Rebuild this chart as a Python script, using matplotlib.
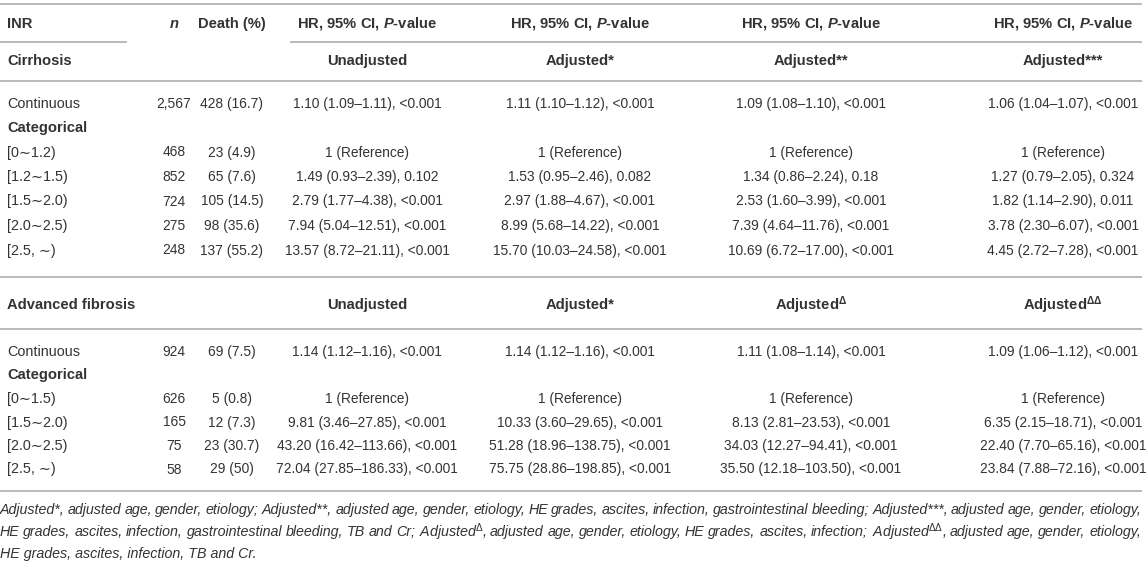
import matplotlib
matplotlib.use("Agg")
import matplotlib.pyplot as plt

plt.rcParams['font.family'] = ['Liberation Sans', 'DejaVu Sans']
plt.rcParams['mathtext.fontset'] = 'custom'
plt.rcParams['mathtext.rm'] = 'Liberation Sans'
plt.rcParams['mathtext.it'] = 'Liberation Sans:italic'
plt.rcParams['mathtext.bf'] = 'Liberation Sans:bold'
plt.rcParams['mathtext.bfit'] = 'Liberation Sans:bold:italic'

# ---------------- data ----------------
col_headers = ["INR", "n", "Death (%)"]
hr_header = r"HR, 95% CI, $\mathbfit{P}$-value"

cirr_title = "Cirrhosis"
cirr_models = ["Unadjusted", "Adjusted*", "Adjusted**", "Adjusted***"]
cirr_labels = ["Continuous", "Categorical", "[0\u223c1.2)", "[1.2\u223c1.5)", "[1.5\u223c2.0)", "[2.0\u223c2.5)", "[2.5, \u223c)"]
cirr_n = ["2,567", "", "468", "852", "724", "275", "248"]
cirr_death = ["428 (16.7)", "", "23 (4.9)", "65 (7.6)", "105 (14.5)", "98 (35.6)", "137 (55.2)"]
cirr_unadj = ["1.10 (1.09–1.11), <0.001", "", "1 (Reference)", "1.49 (0.93–2.39), 0.102",
              "2.79 (1.77–4.38), <0.001", "7.94 (5.04–12.51), <0.001", "13.57 (8.72–21.11), <0.001"]
cirr_adj1 = ["1.11 (1.10–1.12), <0.001", "", "1 (Reference)", "1.53 (0.95–2.46), 0.082",
             "2.97 (1.88–4.67), <0.001", "8.99 (5.68–14.22), <0.001", "15.70 (10.03–24.58), <0.001"]
cirr_adj2 = ["1.09 (1.08–1.10), <0.001", "", "1 (Reference)", "1.34 (0.86–2.24), 0.18",
             "2.53 (1.60–3.99), <0.001", "7.39 (4.64–11.76), <0.001", "10.69 (6.72–17.00), <0.001"]
cirr_adj3 = ["1.06 (1.04–1.07), <0.001", "", "1 (Reference)", "1.27 (0.79–2.05), 0.324",
             "1.82 (1.14–2.90), 0.011", "3.78 (2.30–6.07), <0.001", "4.45 (2.72–7.28), <0.001"]

fib_title = "Advanced fibrosis"
fib_models = ["Unadjusted", "Adjusted*", r"Adjusted$^{\mathbf{\Delta}}$", r"Adjusted$^{\mathbf{\Delta\Delta}}$"]
fib_labels = ["Continuous", "Categorical", "[0\u223c1.5)", "[1.5\u223c2.0)", "[2.0\u223c2.5)", "[2.5, \u223c)"]
fib_n = ["924", "", "626", "165", "75", "58"]
fib_death = ["69 (7.5)", "", "5 (0.8)", "12 (7.3)", "23 (30.7)", "29 (50)"]
fib_unadj = ["1.14 (1.12–1.16), <0.001", "", "1 (Reference)", "9.81 (3.46–27.85), <0.001",
             "43.20 (16.42–113.66), <0.001", "72.04 (27.85–186.33), <0.001"]
fib_adj1 = ["1.14 (1.12–1.16), <0.001", "", "1 (Reference)", "10.33 (3.60–29.65), <0.001",
            "51.28 (18.96–138.75), <0.001", "75.75 (28.86–198.85), <0.001"]
fib_adj2 = ["1.11 (1.08–1.14), <0.001", "", "1 (Reference)", "8.13 (2.81–23.53), <0.001",
            "34.03 (12.27–94.41), <0.001", "35.50 (12.18–103.50), <0.001"]
fib_adj3 = ["1.09 (1.06–1.12), <0.001", "", "1 (Reference)", "6.35 (2.15–18.71), <0.001",
            "22.40 (7.70–65.16), <0.001", "23.84 (7.88–72.16), <0.001"]

footnote_lines = [
    "Adjusted*, adjusted age, gender, etiology; Adjusted**, adjusted age, gender, etiology, HE grades, ascites, infection, gastrointestinal bleeding; Adjusted***, adjusted age, gender, etiology,",
    r"HE grades, ascites, infection, gastrointestinal bleeding, TB and Cr; Adjusted$^{\Delta}$, adjusted age, gender, etiology, HE grades, ascites, infection; Adjusted$^{\Delta\Delta}$, adjusted age, gender, etiology,",
    "HE grades, ascites, infection, TB and Cr.",
]

# ---------------- layout ----------------
W, H = 1146, 574
fig = plt.figure(figsize=(W / 100, H / 100), dpi=100)
ax = fig.add_axes([0, 0, 1, 1])
ax.set_xlim(0, W)
ax.set_ylim(H, 0)
ax.axis('off')

TXT = '#333333'
LINE = '#b4b4b4'
FS_VAL = 9.9     # numeric cells
FS_LAB = 10.4    # row labels
FS_HEAD = 10.6   # bold headers
FS_FOOT = 10.3   # footnote
LW = 1.3

x_label = 7
x_n = 174
x_death = 232
x_hr = [367, 580, 811, 1063]
x_right = 1142


def hline(y, x0=0, x1=x_right):
    ax.plot([x0, x1], [y, y], color=LINE, lw=LW, solid_capstyle='butt')


def txt(x, y, s, fs, ha='center', **kw):
    ax.text(x, y, s, ha=ha, va='center', fontsize=fs, color=TXT, **kw)


# header
hline(4)
y_head = 24
txt(x_label, y_head, col_headers[0], FS_HEAD, ha='left', fontweight='bold')
txt(x_n, y_head, col_headers[1], FS_HEAD, fontweight='bold', fontstyle='italic')
txt(x_death, y_head, col_headers[2], FS_HEAD, fontweight='bold')
for xc in x_hr:
    txt(xc, y_head, hr_header, FS_HEAD, fontweight='bold')
hline(42, 0, 127)
hline(42, 290, x_right)


def section(y_title, title, models, labels, ns, deaths, cols, y_rows):
    txt(x_label, y_title, title, FS_HEAD, ha='left', fontweight='bold')
    for xc, m in zip(x_hr, models):
        txt(xc, y_title, m, FS_HEAD, fontweight='bold')
    for i, lab in enumerate(labels):
        y = y_rows[i]
        if lab == "Categorical":
            txt(x_label, y, lab, FS_HEAD, ha='left', fontweight='bold')
        else:
            txt(x_label, y, lab, FS_LAB, ha='left')
        txt(x_n, y, ns[i], FS_VAL)
        txt(x_death, y, deaths[i], FS_VAL)
        for xc, col in zip(x_hr, cols):
            txt(xc, y, col[i], FS_VAL)


cirr_rows = [104, 128, 152.5, 177, 201.5, 226, 250.5]
section(61, cirr_title, cirr_models, cirr_labels, cirr_n, cirr_death,
        [cirr_unadj, cirr_adj1, cirr_adj2, cirr_adj3], cirr_rows)
hline(81)
hline(277)

fib_rows = [352, 375.5, 399, 422.5, 446, 469.5]
section(305, fib_title, fib_models, fib_labels, fib_n, fib_death,
        [fib_unadj, fib_adj1, fib_adj2, fib_adj3], fib_rows)
hline(329)
hline(491)

# footnote (justified lines)
fig.canvas.draw()
renderer = fig.canvas.get_renderer()
foot_y = [510, 532, 554]
for li, line in enumerate(footnote_lines):
    y = foot_y[li]
    if li == len(footnote_lines) - 1:
        ax.text(0, y, line, ha='left', va='center', fontsize=FS_FOOT, color=TXT, fontstyle='italic')
        continue
    words = line.split(' ')
    arts = [ax.text(0, y, w, ha='left', va='center', fontsize=FS_FOOT, color=TXT, fontstyle='italic')
            for w in words]
    widths = [a.get_window_extent(renderer).width for a in arts]
    gap = (x_right - 1 - sum(widths)) / (len(words) - 1)
    x = 0
    for a, w in zip(arts, widths):
        a.set_x(x)
        x += w + gap

fig.savefig('out.png', dpi=100)
